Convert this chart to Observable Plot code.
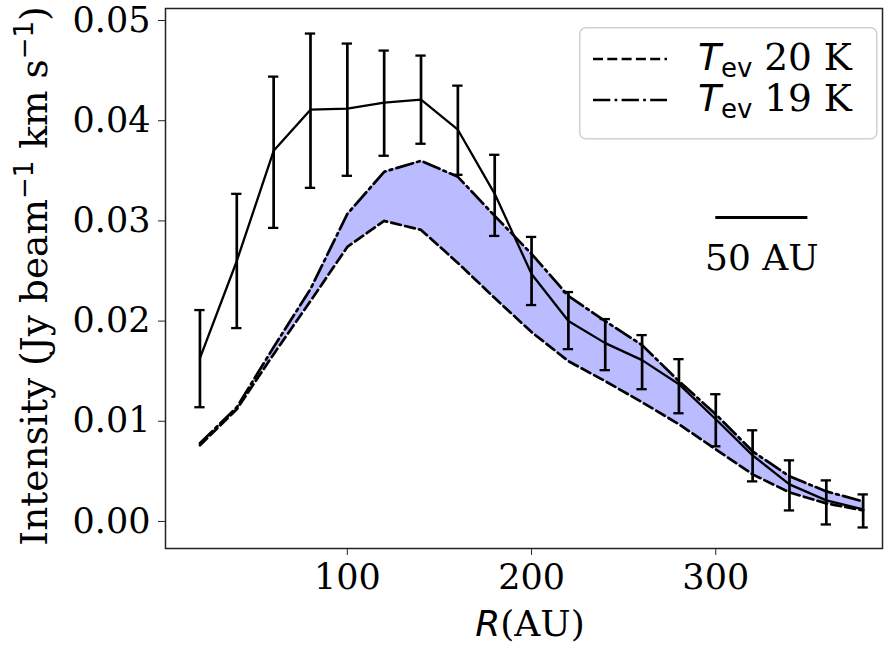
<!DOCTYPE html>
<html>
<head>
<meta charset="utf-8">
<script src="https://cdn.jsdelivr.net/npm/d3@7"></script>
<script src="https://cdn.jsdelivr.net/npm/@observablehq/plot@0.6"></script>
<style>
  html, body { margin: 0; padding: 0; background: #fff; }
  #wrap { position: relative; width: 886px; height: 647px; }
  #legend { position: absolute; left: 579px; top: 27px; }
</style>
</head>
<body>
<div id="wrap"></div>
<script>
// Radius (AU)
const R = [20, 40, 60, 80, 100, 120, 140, 160, 180, 200, 220, 240, 260, 280, 300, 320, 340, 360, 380];
// Observed intensity and error bar ends
const obs   = [0.0163, 0.0260, 0.0370, 0.0411, 0.0412, 0.0418, 0.0421, 0.0391, 0.0327, 0.0247, 0.0200, 0.0178, 0.0161, 0.0137, 0.0102, 0.0066, 0.0037, 0.0021, 0.0012];
const obsHi = [0.0211, 0.0327, 0.0444, 0.0487, 0.0477, 0.0470, 0.0465, 0.0435, 0.0366, 0.0284, 0.0229, 0.0202, 0.0186, 0.0162, 0.0127, 0.0091, 0.0061, 0.0041, 0.0027];
const obsLo = [0.0114, 0.0193, 0.0293, 0.0333, 0.0345, 0.0365, 0.0377, 0.0346, 0.0285, 0.0216, 0.0172, 0.0151, 0.0132, 0.0108, 0.0075, 0.0040, 0.0011, -0.0003, -0.0006];
// Models
const model20K = [0.0076, 0.0112, 0.0167, 0.0220, 0.0274, 0.0300, 0.0291, 0.0258, 0.0223, 0.0189, 0.0160, 0.0140, 0.0119, 0.0097, 0.0072, 0.0047, 0.0029, 0.0018, 0.0011];
const model19K = [0.0078, 0.0114, 0.0174, 0.0232, 0.0307, 0.0349, 0.0360, 0.0344, 0.0305, 0.0267, 0.0225, 0.0200, 0.0176, 0.0140, 0.0107, 0.0070, 0.0045, 0.0030, 0.0020];
// Axis ticks
const xTicks = [100, 200, 300];
const yTicks = [0.00, 0.01, 0.02, 0.03, 0.04, 0.05];
// Scale bar
const scaleBar = [{x1: 300, x2: 350, y: 0.03035, label: "50 AU", ty: 0.0262}];
// Legend entries
const legendItems = [
  {sym: "T", sub: "ev", label: " 20 K", dash: "10,4.3"},
  {sym: "T", sub: "ev", label: " 19 K", dash: "17.3,4.3,2.7,4.3"}
];

const data = R.map((r, i) => ({r, obs: obs[i], hi: obsHi[i], lo: obsLo[i], m20: model20K[i], m19: model19K[i]}));
const capHalf = 2.8; // AU

const chart = Plot.plot({
  width: 886, height: 647,
  marginLeft: 165, marginRight: 4, marginTop: 8, marginBottom: 99,
  style: {fontFamily: "DejaVu Serif", fontSize: "35px", color: "#000", background: "#fff", overflow: "visible"},
  x: {domain: [1.3, 390.5]},
  y: {domain: [-0.0027, 0.0512]},
  marks: [
    Plot.areaY(data, {x: "r", y1: "m20", y2: "m19", fill: "#bbbbff", curve: "linear"}),
    Plot.line(data, {x: "r", y: "m20", stroke: "#000", strokeWidth: 2.7, strokeDasharray: legendItems[0].dash}),
    Plot.line(data, {x: "r", y: "m19", stroke: "#000", strokeWidth: 2.7, strokeDasharray: legendItems[1].dash}),
    Plot.line(data, {x: "r", y: "obs", stroke: "#000", strokeWidth: 2.3}),
    Plot.ruleX(data, {x: "r", y1: "lo", y2: "hi", stroke: "#000", strokeWidth: 2.7}),
    Plot.ruleY(data, {x1: d => d.r - capHalf, x2: d => d.r + capHalf, y: "hi", stroke: "#000", strokeWidth: 2.3}),
    Plot.ruleY(data, {x1: d => d.r - capHalf, x2: d => d.r + capHalf, y: "lo", stroke: "#000", strokeWidth: 2.3}),
    Plot.ruleY(scaleBar, {x1: "x1", x2: "x2", y: "y", stroke: "#000", strokeWidth: 3}),
    Plot.text(scaleBar, {x: d => (d.x1 + d.x2) / 2, y: "ty", text: "label", fontSize: 36, fontFamily: "DejaVu Serif", fill: "#000"}),
    Plot.frame({stroke: "#222", strokeWidth: 1.5}),
    Plot.axisX({ticks: xTicks, tickSize: 7, tickPadding: 9, label: null, tickFormat: d => String(d), stroke: "#222"}),
    Plot.axisY({ticks: yTicks, tickSize: 7, tickPadding: 8, label: null, tickFormat: d3.format(".2f"), stroke: "#222"})
  ]
});

const wrap = document.getElementById("wrap");
wrap.appendChild(chart);

// Axis titles with math-like formatting
const svg = d3.select(chart);
const yl = svg.append("text")
  .attr("transform", "translate(47,276) rotate(-90)")
  .attr("text-anchor", "middle")
  .attr("font-family", "DejaVu Serif").attr("font-size", 37.5).attr("fill", "#000");
yl.append("tspan").text("Intensity (Jy beam");
yl.append("tspan").attr("font-family", "DejaVu Sans").attr("font-size", 26).attr("dy", -14).text("\u22121");
yl.append("tspan").attr("dy", 14).text(" km s");
yl.append("tspan").attr("font-family", "DejaVu Sans").attr("font-size", 26).attr("dy", -14).text("\u22121");
yl.append("tspan").attr("dy", 14).text(")");

const xl = svg.append("text")
  .attr("x", 530).attr("y", 636)
  .attr("text-anchor", "middle")
  .attr("font-family", "DejaVu Serif").attr("font-size", 36).attr("fill", "#000");
xl.append("tspan").attr("font-family", "DejaVu Sans").attr("font-style", "italic").text("R");
xl.append("tspan").text("(AU)");

// Legend (inline svg overlay inside the axes)
const lg = d3.select(wrap).append("svg").attr("id", "legend").attr("width", 300).attr("height", 114);
lg.append("rect").attr("x", 0.75).attr("y", 0.75).attr("width", 297).attr("height", 111).attr("rx", 6)
  .attr("fill", "#fff").attr("fill-opacity", 0.8).attr("stroke", "#d0d0d0").attr("stroke-width", 1.5);
legendItems.forEach((it, i) => {
  const yy = 32 + i * 41;
  lg.append("line").attr("x1", 14).attr("x2", 88).attr("y1", yy).attr("y2", yy)
    .attr("stroke", "#000").attr("stroke-width", 2.7).attr("stroke-dasharray", it.dash);
  const t = lg.append("text").attr("x", 119).attr("y", yy + 11).attr("fill", "#000")
    .attr("font-family", "DejaVu Serif").attr("font-size", 37.5);
  t.append("tspan").attr("font-family", "DejaVu Sans").attr("font-style", "italic").text(it.sym);
  t.append("tspan").attr("font-family", "DejaVu Sans").attr("font-size", 26).attr("dy", 7).text(it.sub);
  t.append("tspan").attr("dy", -7).text(it.label);
});
</script>
</body>
</html>
